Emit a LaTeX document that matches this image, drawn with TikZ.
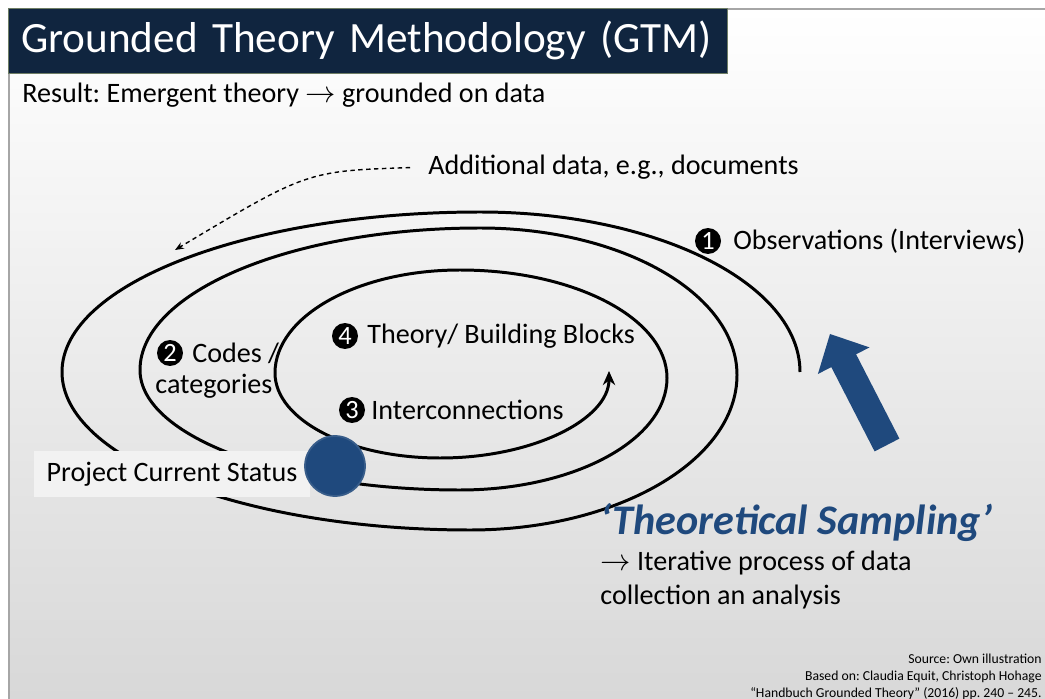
\documentclass[tikz,border=0pt]{standalone}
\usepackage{fontspec}
\setmainfont{Carlito}
\frenchspacing
\usetikzlibrary{positioning,arrows.meta}
\definecolor{navy}{RGB}{16,37,63}
\definecolor{steel}{RGB}{31,73,125}
\definecolor{steeledge}{RGB}{56,93,138}
\definecolor{slidegray}{RGB}{216,216,216}
\definecolor{framegray}{RGB}{166,166,166}
\definecolor{labelfill}{RGB}{242,242,242}
\begin{document}
\begin{tikzpicture}[x=0.02cm,y=-0.02cm]
\tikzstyle{lbl}=[font=\fontsize{16}{19}\selectfont,inner sep=0pt,anchor=west]
\tikzstyle{badge}=[circle,fill=black,text=white,inner sep=0pt,minimum size=0.52cm,font=\fontsize{15}{15}\selectfont]
\tikzstyle{spiralline}=[line width=1.7pt]
\tikzstyle{titlebox}=[fill=navy,draw={rgb,255:red,110;green,125;blue,100},line width=0.5pt,text=white,
  minimum width=14.4cm,minimum height=1.3cm,text width=13.88cm,inner xsep=0.26cm,inner ysep=0pt,
  align=left,font=\fontsize{24.6}{29}\selectfont]
\tikzstyle{statusbox}=[fill=labelfill,minimum width=5.54cm,minimum height=0.92cm,inner sep=0pt,
  font=\fontsize{16}{19}\selectfont]
\tikzstyle{dot}=[circle,fill=steel,draw=steeledge,line width=1pt,minimum size=1.2cm,inner sep=0pt]
\useasboundingbox (0,0) rectangle (1045,699);
% slide background
\fill[white] (0,0) rectangle (1045,699);
\shade[top color=white,bottom color=slidegray] (9,9) rectangle (1045,699);
\draw[framegray,line width=1.2pt] (9,73) -- (9,699) (728,9) -- (1045,9);
% spiral
\draw[spiralline,-{Stealth[length=8pt,width=7pt]}] (800,372)
  arc[start angle=0,end angle=-90,x radius=320,y radius=160]
  arc[start angle=-90,end angle=-180,x radius=418,y radius=160]
  arc[start angle=-180,end angle=-270,x radius=408,y radius=158]
  arc[start angle=-270,end angle=-360,x radius=267,y radius=155]
  arc[start angle=0,end angle=-90,x radius=257,y radius=147]
  arc[start angle=-90,end angle=-180,x radius=340,y radius=142]
  arc[start angle=-180,end angle=-270,x radius=320,y radius=120]
  arc[start angle=-270,end angle=-360,x radius=207,y radius=112]
  arc[start angle=0,end angle=-90,x radius=207,y radius=108]
  arc[start angle=-90,end angle=-180,x radius=185,y radius=103]
  arc[start angle=-180,end angle=-270,x radius=165,y radius=85]
  arc[start angle=-270,end angle=-360,x radius=169,y radius=87];
\path
  (368,40.5) node[titlebox] (title) {Grounded Theory Methodology (GTM)}
  (22,95) node[lbl] (result) {Result: Emergent theory $\rightarrow$ grounded on data}
  (428,167) node[lbl] (extra) {Additional data, e.g., documents}
  (708,241) node[badge] (b1) {1}
  (170,353) node[badge] (b2) {2}
  (345,336) node[badge] (b4) {4}
  (352,410) node[badge] (b3) {3}
  (155,386) node[lbl] (cats) {categories}
  (172,474) node[statusbox] (status) {Project Current Status}
  (335,466) node[dot] (now) {}
;
\coordinate (entry) at (175,250);
\node[lbl,right=0.5cm of b1.center] (obs) {Observations (Interviews)};
\node[lbl,right=0.44cm of b2.center] (codes) {Codes /};
\node[lbl,right=0.44cm of b4.center] (theory) {Theory/ Building Blocks};
\node[lbl,right=0.38cm of b3.center] (inter) {Interconnections};
\draw[dashed,line width=0.8pt,dash pattern=on 2.5pt off 2pt,-{Stealth[length=5pt,width=4pt]},shorten <=0.36cm]
  (extra.west) .. controls (307,171) .. (entry);
% theoretical sampling
\fill[steel] (874.6,451.4) -- (831.3,367.1) -- (817.9,374.0) -- (830,334)
  -- (869.5,347.4) -- (856.1,354.3) -- (899.4,438.6) -- cycle;
\node[lbl,font=\fontsize{24}{28}\bfseries\itshape\selectfont,text=steel] (ts) at (600,523) {‘Theoretical Sampling’};
\node[lbl,align=left,font=\fontsize{16}{19.3}\selectfont] (iter) at (600,580) {$\rightarrow$ Iterative process of data\\collection an analysis};
\node[inner sep=0pt,anchor=east,align=right,font=\fontsize{7.8}{9.6}\selectfont] (src) at (1042,677)
  {Source: Own illustration\\Based on: Claudia Equit, Christoph Hohage\\“Handbuch Grounded Theory” (2016) pp. 240 – 245.};
\end{tikzpicture}
\end{document}
